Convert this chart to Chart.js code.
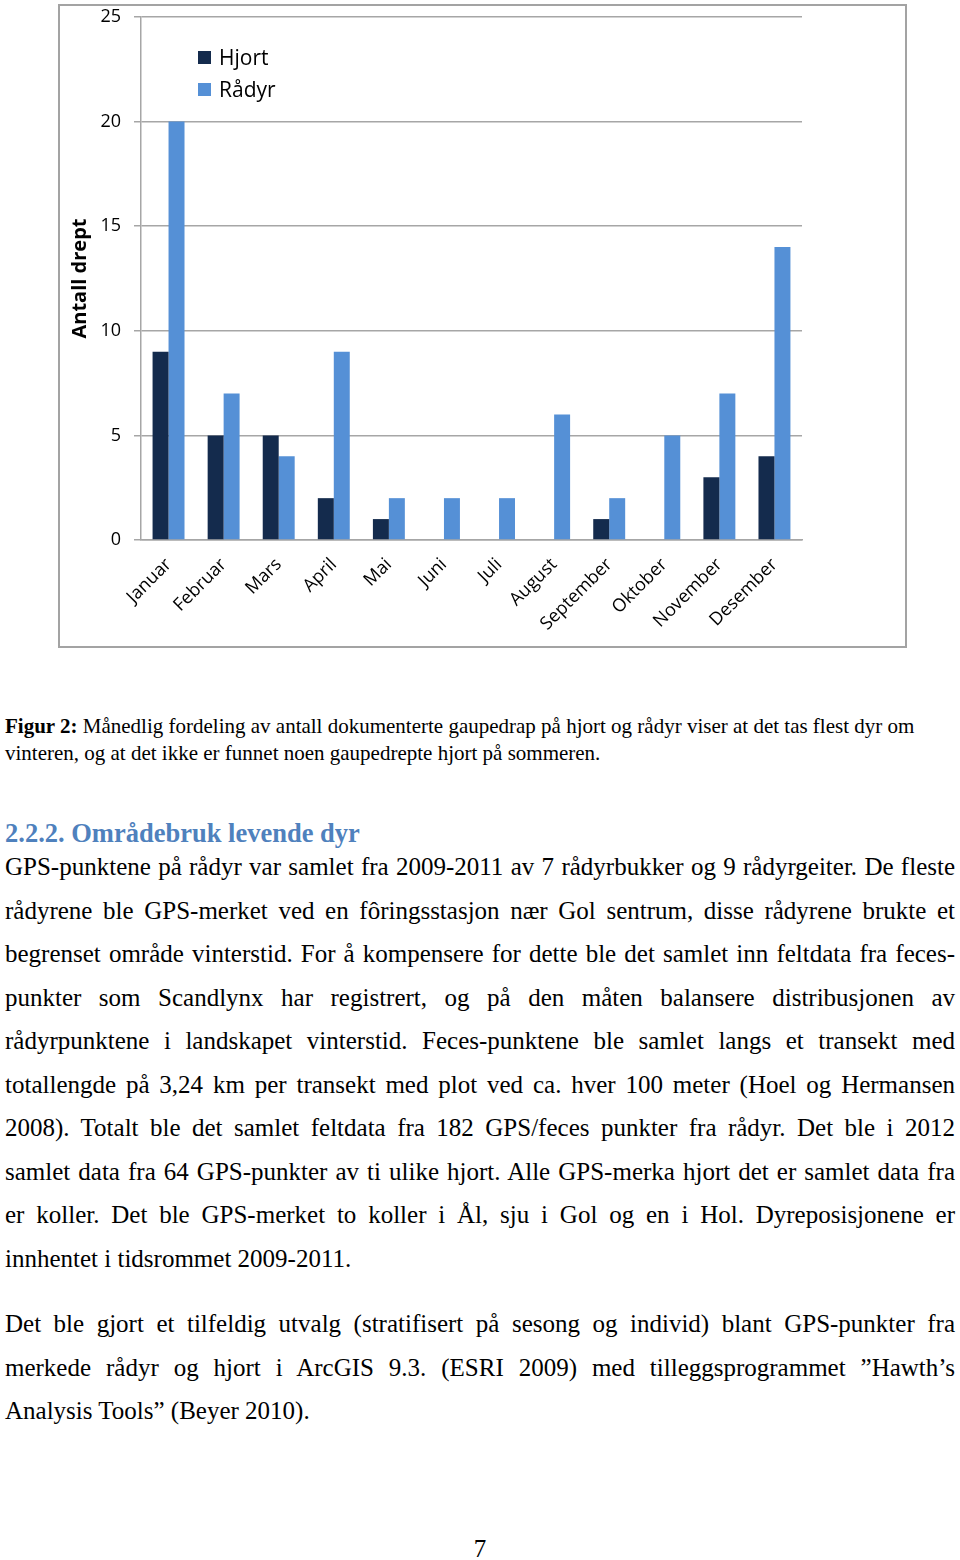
<!DOCTYPE html>
<html>
<head>
<meta charset="utf-8">
<script src="https://cdn.jsdelivr.net/npm/chart.js@4.4.1/dist/chart.umd.min.js"></script>
<style>
  html, body { margin: 0; padding: 0; background: #fff; }
  body { width: 960px; height: 1560px; position: relative; overflow: hidden; font-family: "Liberation Serif", "Times New Roman", serif; color: #000; }
  #chartBox { position: absolute; left: 58px; top: 4px; width: 849px; height: 644px; border: 2px solid #a3a3a3; box-sizing: border-box; background: #fff; }
  #chart { position: absolute; left: 0; top: 0; }
  #legend { position: absolute; left: 138px; top: 35px; font-family: "Open Sans", sans-serif; font-size: 21px; line-height: 32px; color: #000; }
  #legend .item { display: flex; align-items: center; }
  #legend .sw { width: 13px; height: 13px; margin-right: 8px; display: inline-block; }
  .caption { position: absolute; left: 5px; top: 713px; width: 955px; font-size: 21px; line-height: 27px; white-space: nowrap; }
  .heading { position: absolute; left: 5px; top: 817px; font-size: 26.5px; line-height: 32px; font-weight: bold; color: #4f81bd; font-family: "Liberation Serif", serif; }
  .para { position: absolute; left: 5px; width: 950px; font-size: 25px; line-height: 43.5px; }
  .para .l { display: block; white-space: nowrap; text-align: justify; text-align-last: justify; }
  .para .last { text-align: left; text-align-last: left; }
  .pnum { position: absolute; left: 0; width: 960px; top: 1535px; text-align: center; font-size: 25px; line-height: 28px; }
</style>
</head>
<body>
<div id="chartBox">
  <canvas id="chart" width="845" height="640"></canvas>
  <div id="legend"></div>
</div>

<div class="caption"><b>Figur 2:</b> Månedlig fordeling av antall dokumenterte gaupedrap på hjort og rådyr viser at det tas flest dyr om<br>vinteren, og at det ikke er funnet noen gaupedrepte hjort på sommeren.</div>

<div class="heading">2.2.2. Områdebruk levende dyr</div>

<div class="para" style="top:845px">
<span class="l">GPS-punktene på rådyr var samlet fra 2009-2011 av 7 rådyrbukker og 9 rådyrgeiter. De fleste</span>
<span class="l">rådyrene ble GPS-merket ved en fôringsstasjon nær Gol sentrum, disse rådyrene brukte et</span>
<span class="l">begrenset område vinterstid. For å kompensere for dette ble det samlet inn feltdata fra feces-</span>
<span class="l">punkter som Scandlynx har registrert, og på den måten balansere distribusjonen av</span>
<span class="l">rådyrpunktene i landskapet vinterstid. Feces-punktene ble samlet langs et transekt med</span>
<span class="l">totallengde på 3,24 km per transekt med plot ved ca. hver 100 meter (Hoel og Hermansen</span>
<span class="l">2008). Totalt ble det samlet feltdata fra 182 GPS/feces punkter fra rådyr. Det ble i 2012</span>
<span class="l">samlet data fra 64 GPS-punkter av ti ulike hjort. Alle GPS-merka hjort det er samlet data fra</span>
<span class="l">er koller. Det ble GPS-merket to koller i Ål, sju i Gol og en i Hol. Dyreposisjonene er</span>
<span class="l last">innhentet i tidsrommet 2009-2011.</span>
</div>

<div class="para" style="top:1302px">
<span class="l">Det ble gjort et tilfeldig utvalg (stratifisert på sesong og individ) blant GPS-punkter fra</span>
<span class="l">merkede rådyr og hjort i ArcGIS 9.3. (ESRI 2009) med tilleggsprogrammet ”Hawth’s</span>
<span class="l last">Analysis Tools” (Beyer 2010).</span>
</div>

<div class="pnum">7</div>

<script>
const months = ["Januar","Februar","Mars","April","Mai","Juni","Juli","August","September","Oktober","November","Desember"];
const hjort  = [9, 5, 5, 2, 1, 0, 0, 0, 1, 0, 3, 4];
const radyr  = [20, 7, 4, 9, 2, 2, 2, 6, 2, 5, 7, 14];
const seriesNames = ["Hjort", "Rådyr"];
const yTicks = [0, 5, 10, 15, 20, 25];
const yTitle = "Antall drept";

const colors = ["#142b4d", "#5590d6"];
const gridColor = "#a6a6a6";
const tickFont = { family: "Open Sans", size: 18 };

const chart = new Chart(document.getElementById("chart"), {
  type: "bar",
  data: {
    labels: months,
    datasets: [
      { label: seriesNames[0], data: hjort, backgroundColor: colors[0], barPercentage: 1, categoryPercentage: 0.58 },
      { label: seriesNames[1], data: radyr, backgroundColor: colors[1], barPercentage: 1, categoryPercentage: 0.58 }
    ]
  },
  options: {
    responsive: false,
    animation: false,
    layout: { padding: { left: 4, right: 103, top: 11, bottom: 0 } },
    plugins: { legend: { display: false }, tooltip: { enabled: false } },
    scales: {
      x: {
        grid: { display: false },
        border: { display: true, color: gridColor, width: 1.5 },
        ticks: { color: "#000", font: tickFont, minRotation: 45, maxRotation: 45, padding: 6 },
        afterFit: s => { s.height = 106; s.paddingLeft = 0; s.paddingRight = 0; }
      },
      y: {
        min: 0, max: 25,
        afterBuildTicks: s => { s.ticks = yTicks.map(v => ({ value: v })); },
        grid: { color: gridColor, lineWidth: 1.5, tickLength: 7, drawTicks: true },
        border: { display: true, color: gridColor, width: 1.5 },
        ticks: { color: "#000", font: tickFont, padding: 13 },
        title: { display: true, text: yTitle, color: "#000", font: { family: "Open Sans", size: 20, weight: "bold" }, padding: { top: 4, bottom: 4 } },
        afterFit: s => { s.width = 77; s.paddingTop = 0; s.paddingBottom = 0; }
      }
    }
  }
});

const leg = document.getElementById("legend");
chart.data.datasets.forEach(ds => {
  const it = document.createElement("div");
  it.className = "item";
  const sw = document.createElement("span");
  sw.className = "sw";
  sw.style.background = ds.backgroundColor;
  const tx = document.createElement("span");
  tx.textContent = ds.label;
  it.appendChild(sw); it.appendChild(tx);
  leg.appendChild(it);
});
</script>
</body>
</html>
